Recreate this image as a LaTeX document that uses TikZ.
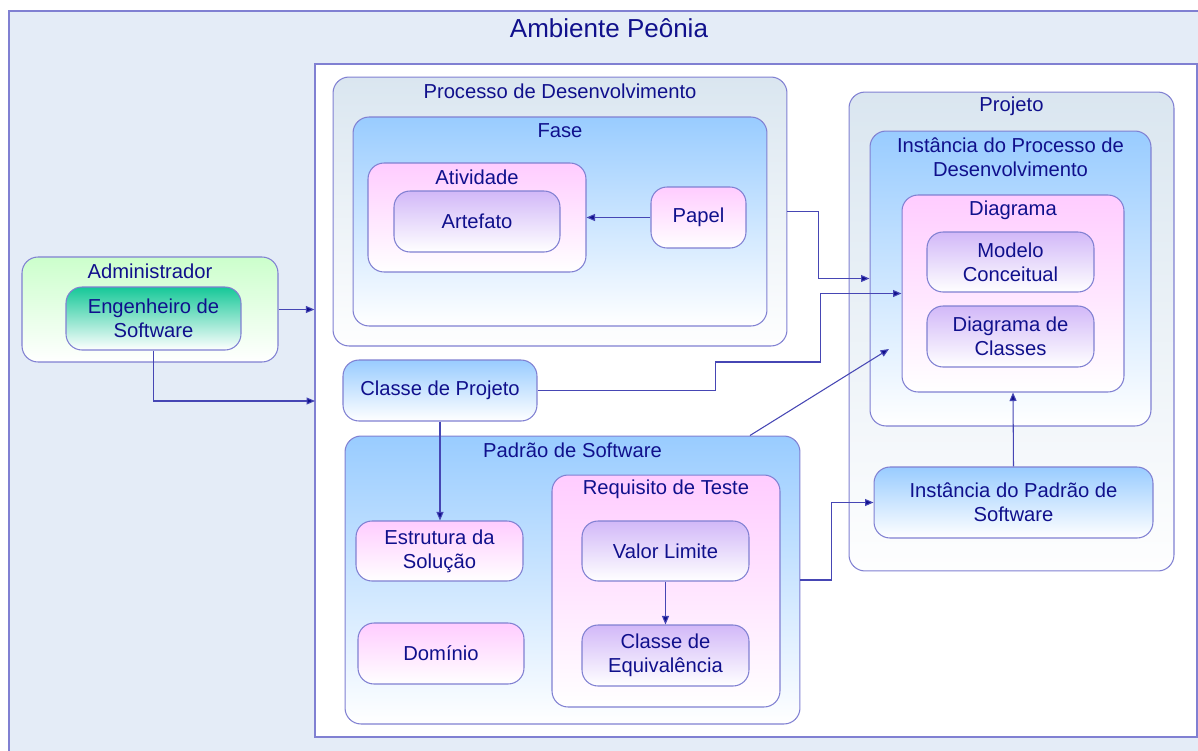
\documentclass[tikz,border=0pt]{standalone}
\usepackage{fontspec}
\setmainfont{Liberation Sans}
\usetikzlibrary{arrows.meta}
\definecolor{edgeBlue}{RGB}{128,128,210}
\definecolor{textBlue}{RGB}{16,16,140}
\definecolor{lineBlue}{RGB}{70,70,180}
\definecolor{envFill}{RGB}{228,236,247}
\definecolor{grayTop}{RGB}{218,230,240}
\definecolor{blueTop}{RGB}{153,204,255}
\definecolor{pinkTop}{RGB}{255,204,255}
\definecolor{lilacTop}{RGB}{210,184,248}
\definecolor{greenTop}{RGB}{204,255,204}
\definecolor{tealTop}{RGB}{22,200,152}

\begin{document}
\begin{tikzpicture}[x=0.02cm, y=-0.02cm,
    groupBox/.style={draw=edgeBlue, line width=0.6pt, rounded corners=0.32cm, inner sep=0pt},
    grayBox/.style={groupBox, top color=grayTop, bottom color=white!96!grayTop},
    blueBox/.style={groupBox, top color=blueTop, bottom color=white},
    pinkBox/.style={groupBox, top color=pinkTop, bottom color=white},
    lilacBox/.style={groupBox, top color=lilacTop, bottom color=white},
    greenBox/.style={groupBox, top color=greenTop, bottom color=white},
    tealBox/.style={groupBox, top color=tealTop, bottom color=white},
    boxText/.style={text=textBlue, align=center, font=\fontsize{11.5}{13.6}\selectfont},
    link/.style={-{Triangle[length=1.7mm, width=1.4mm, fill=textBlue]}, lineBlue, line width=0.6pt}
]
    % Background Zones
    \useasboundingbox (0,0) rectangle (1198,751);
    \draw[edgeBlue, fill=envFill, line width=0.8pt] (9,11) rectangle (1215,765);
    \node[boxText, font=\fontsize{14.8}{17}\selectfont] (envT) at (609,28) {Ambiente Peônia};
    \node[draw=edgeBlue, fill=white, line width=0.8pt, inner sep=0pt,
          minimum width=17.64cm, minimum height=13.46cm] (area) at (756,400.5) {};

    % Administrador
    \node[greenBox, minimum width=5.12cm, minimum height=2.1cm] (adm) at (150,309.5) {};
    \node[boxText] (admT) at ([yshift=-0.29cm]adm.north) {Administrador};
    \node[tealBox, boxText, minimum width=3.5cm, minimum height=1.26cm] (eng) at (153.5,318.5) {Engenheiro de\\Software};

    % Processo de Desenvolvimento
    \node[grayBox, minimum width=9.08cm, minimum height=5.38cm] (proc) at (560,211.5) {};
    \node[boxText] (procT) at ([yshift=-0.29cm]proc.north) {Processo de Desenvolvimento};
    \node[blueBox, minimum width=8.28cm, minimum height=4.18cm] (fase) at (560,221.5) {};
    \node[boxText] (faseT) at ([yshift=-0.29cm]fase.north) {Fase};
    \node[pinkBox, minimum width=4.36cm, minimum height=2.18cm] (ativ) at (477,217.5) {};
    \node[boxText] (ativT) at ([yshift=-0.3cm]ativ.north) {Atividade};
    \node[lilacBox, boxText, minimum width=3.32cm, minimum height=1.22cm] (artef) at (477,221.5) {Artefato};
    \node[pinkBox, boxText, minimum width=1.9cm, minimum height=1.22cm] (papel) at (698.5,217.5) {Papel};

    % Projeto
    \node[grayBox, minimum width=6.5cm, minimum height=9.58cm] (proj) at (1011.5,331.5) {};
    \node[boxText] (projT) at ([yshift=-0.29cm]proj.north) {Projeto};
    \node[blueBox, minimum width=5.62cm, minimum height=5.9cm] (instproc) at (1010.5,278.5) {};
    \node[boxText] (instprocT) at ([yshift=-0.54cm]instproc.north) {Instância do Processo de\\Desenvolvimento};
    \node[pinkBox, minimum width=4.44cm, minimum height=3.94cm] (diag) at (1013,293.5) {};
    \node[boxText] (diagT) at ([yshift=-0.32cm]diag.north) {Diagrama};
    \node[lilacBox, boxText, minimum width=3.34cm, minimum height=1.2cm] (modelo) at (1010.5,262) {Modelo\\Conceitual};
    \node[lilacBox, boxText, minimum width=3.34cm, minimum height=1.22cm] (diagcl) at (1010.5,336.5) {Diagrama de\\Classes};
    \node[blueBox, boxText, minimum width=5.58cm, minimum height=1.42cm] (instpad) at (1013.5,502.5) {Instância do Padrão de\\Software};

    % Classe de Projeto and Padrao de Software
    \node[blueBox, boxText, minimum width=3.88cm, minimum height=1.22cm] (classe) at (440,390.5) {Classe de Projeto};
    \node[blueBox, minimum width=9.1cm, minimum height=5.76cm] (padrao) at (572.5,580) {};
    \node[boxText] (padraoT) at ([yshift=-0.29cm]padrao.north) {Padrão de Software};
    \node[pinkBox, boxText, minimum width=3.34cm, minimum height=1.2cm] (estrut) at (439.5,551) {Estrutura da\\Solução};
    \node[pinkBox, boxText, minimum width=3.32cm, minimum height=1.22cm] (dominio) at (441,653.5) {Domínio};
    \node[pinkBox, minimum width=4.56cm, minimum height=4.64cm] (req) at (666,591) {};
    \node[boxText] (reqT) at ([yshift=-0.3cm]req.north) {Requisito de Teste};
    \node[lilacBox, boxText, minimum width=3.34cm, minimum height=1.2cm] (valor) at (665.5,551) {Valor Limite};
    \node[lilacBox, boxText, minimum width=3.34cm, minimum height=1.22cm] (equiv) at (665.5,655.5) {Classe de\\Equivalência};

    % Connectors
    \coordinate (engIn) at (315,401);
    \coordinate (padIn) at (889,349);
    \draw[link] (adm.east) -- (adm.east -| area.west);
    \draw[link] (eng.south) |- (engIn);
    \draw[link] (proc.east) -- ++(31,0) |- (instproc.west);
    \draw[link] (classe.east) -- ++(178,0) -- ++(0,-28.5) -- ++(105,0) |- (diag.west);
    \draw[link] ([xshift=3.55cm]padrao.north) -- (padIn);
    \draw[link] (classe.south) -- (classe.south |- estrut.north);
    \draw[link] (padrao.east) -- ++(31,0) |- (instpad.west);
    \draw[link] (papel.west) -- (ativ.east);
    \draw[link] (valor.south) -- (equiv.north);
    \draw[link] (instpad.north) -- (diag.south);
\end{tikzpicture}
\end{document}
